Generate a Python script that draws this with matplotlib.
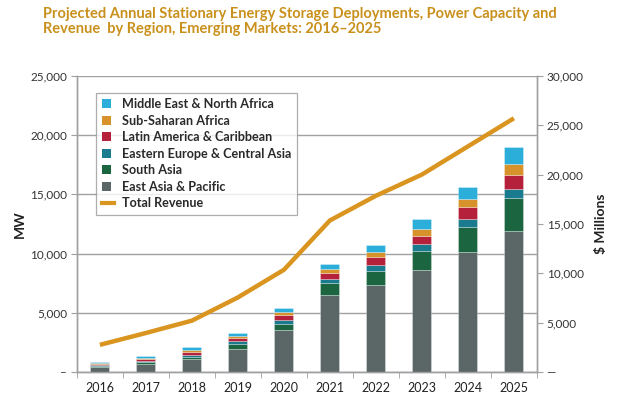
import matplotlib.pyplot as plt
import numpy as np
from matplotlib.ticker import FuncFormatter, FixedLocator

plt.rcParams['font.family'] = ['Lato', 'DejaVu Sans']

years = ['2016', '2017', '2018', '2019', '2020', '2021', '2022', '2023', '2024', '2025']

# MW by region (bottom to top of the stack)
east_asia = [420, 675, 1090, 1930, 3530, 6500, 7340, 8600, 10100, 11920]
south_asia = [85, 140, 170, 395, 560, 990, 1205, 1600, 2130, 2760]
eastern_europe = [85, 110, 170, 280, 280, 365, 480, 565, 650, 785]
latin_america = [110, 170, 250, 280, 445, 480, 700, 700, 1010, 1155]
sub_saharan = [60, 110, 145, 145, 225, 340, 370, 565, 675, 925]
middle_east = [85, 110, 250, 280, 335, 445, 640, 845, 1035, 1410]

# $ Millions
revenue = [2750, 3950, 5200, 7550, 10350, 15350, 17850, 20000, 22850, 25700]

regions = ['East Asia & Pacific', 'South Asia', 'Eastern Europe & Central Asia',
           'Latin America & Caribbean', 'Sub-Saharan Africa', 'Middle East & North Africa']
series = [east_asia, south_asia, eastern_europe, latin_america, sub_saharan, middle_east]
colors = ['#5b6667', '#1b6541', '#1a7a8e', '#b5213a', '#d8922b', '#2caedb']
line_color = '#d9951f'
grid_color = '#a0a0a0'

fig = plt.figure(figsize=(6.2, 3.97), dpi=100)
ax = fig.add_axes([0.124, 0.063, 0.742, 0.746])
ax2 = ax.twinx()

x = np.arange(len(years))
bottom = np.zeros(len(years))
bars = []
for vals, c, name in zip(series, colors, regions):
    b = ax.bar(x, vals, 0.41, bottom=bottom, color=c, label=name,
               edgecolor=(1, 1, 1, 0.35), linewidth=0.6, zorder=3)
    bars.append(b)
    bottom += np.array(vals)

ln, = ax2.plot(x, revenue, color=line_color, lw=3.2, solid_capstyle='butt', zorder=4)

ax.set_xlim(-0.5, 9.5)
ax.set_ylim(0, 25000)
ax2.set_ylim(0, 30000)

ax.set_yticks(np.arange(0, 25001, 5000))
ax2.set_yticks(np.arange(0, 30001, 5000))
fmt = FuncFormatter(lambda v, p: '–' if v == 0 else f'{int(v):,}')
ax.yaxis.set_major_formatter(fmt)
ax2.yaxis.set_major_formatter(FuncFormatter(lambda v, p: '—' if v == 0 else f'{int(v):,}'))

ax.set_xticks(x)
ax.set_xticklabels(years)
ax.xaxis.set_minor_locator(FixedLocator(np.arange(-0.5, 10, 1)))
ax.tick_params(axis='x', which='major', length=0, pad=7, labelsize=9, labelcolor='#222222')
ax.tick_params(axis='x', which='minor', length=4, color=grid_color)
ax.tick_params(axis='y', length=4, color=grid_color, labelsize=8.5, labelcolor='#333333', pad=3)
ax2.tick_params(axis='y', length=4, color=grid_color, labelsize=8.5, labelcolor='#333333', pad=3)

ax.yaxis.grid(True, color=grid_color, lw=1, zorder=0)
ax.set_axisbelow(True)

for a in (ax, ax2):
    a.spines['top'].set_visible(False)
    for s in ('left', 'right', 'bottom'):
        a.spines[s].set_color(grid_color)
        a.spines[s].set_linewidth(1)

ax.set_ylabel('MW', fontsize=10, fontweight='bold', color='#222222', labelpad=3)
ax2.set_ylabel('$ Millions', fontsize=10, fontweight='bold', color='#222222', labelpad=8)

ln_leg = plt.Line2D([], [], color=line_color, lw=3)
handles = bars[::-1] + [ln_leg]
labels = regions[::-1] + ['Total Revenue']
leg = ax.legend(handles, labels, loc='upper left',
                bbox_to_anchor=(0.028, 0.965), fontsize=9.1, frameon=True,
                fancybox=False, edgecolor='#999999', handlelength=1.0,
                handleheight=0.7, labelspacing=0.36, borderpad=0.45,
                handletextpad=0.6)
leg.get_frame().set_linewidth(0.9)
for t in leg.get_texts():
    t.set_fontweight('bold')
    t.set_color('#2a2a2a')
for h in leg.legend_handles[:-1]:
    h.set_width(6.5)
    h.set_height(6.5)
    h.set_edgecolor('none')
leg.set_zorder(10)

fig.text(0.07, 0.983, 'Projected Annual Stationary Energy Storage Deployments, Power Capacity and\n'
         'Revenue  by Region, Emerging Markets: 2016–2025', ha='left', va='top',
         fontsize=10.5, fontweight='bold', color='#c9901c', linespacing=1.15)

fig.savefig('out.png', dpi=100)
